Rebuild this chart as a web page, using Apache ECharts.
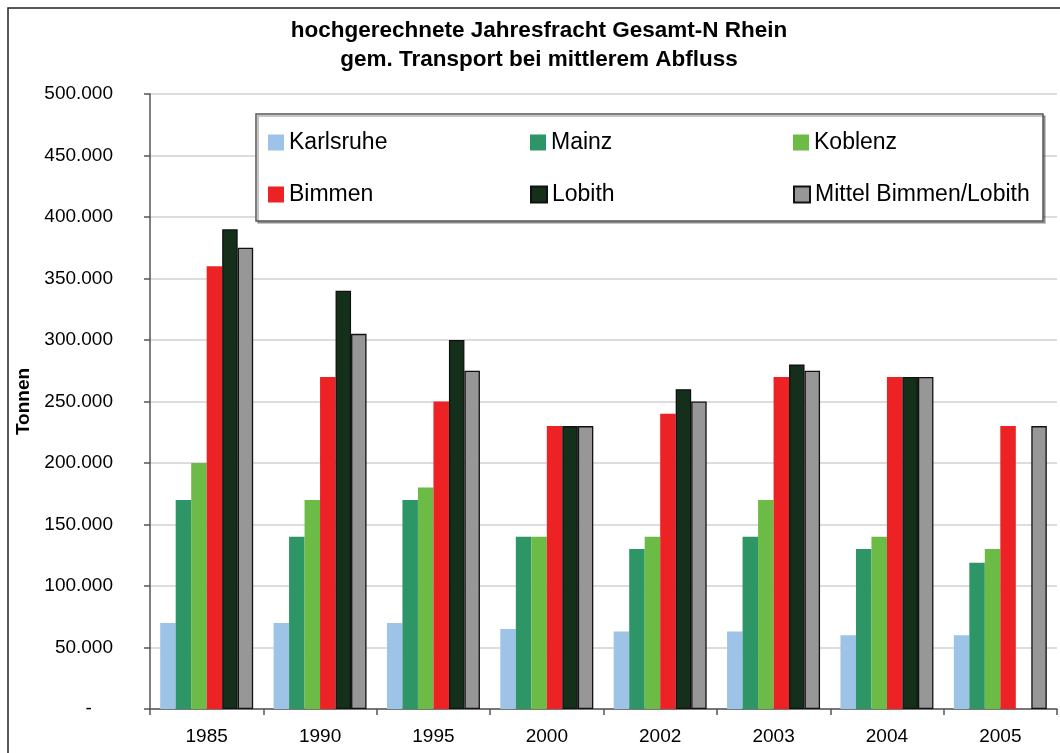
<!DOCTYPE html>
<html>
<head>
<meta charset="utf-8">
<script src="https://cdn.jsdelivr.net/npm/echarts@6/dist/echarts.min.js"></script>
<style>
  html, body { margin: 0; padding: 0; background: #fff; }
  #chart { width: 1060px; height: 753px; }
</style>
</head>
<body>
<div id="chart"></div>
<script>
// Jahre (Kategorien)
var years = ['1985', '1990', '1995', '2000', '2002', '2003', '2004', '2005'];

// Jahresfracht Gesamt-N in Tonnen, je Messstelle
var karlsruhe = [70000, 70000, 70000, 65000, 63000, 63000, 60000, 60000];
var mainz     = [170000, 140000, 170000, 140000, 130000, 140000, 130000, 119000];
var koblenz   = [200000, 170000, 180000, 140000, 140000, 170000, 140000, 130000];
var bimmen    = [360000, 270000, 250000, 230000, 240000, 270000, 270000, 230000];
var lobith    = [390000, 340000, 300000, 230000, 260000, 280000, 270000, null];
var mittel    = [375000, 305000, 275000, 230000, 250000, 275000, 270000, 230000];

var seriesNames = ['Karlsruhe', 'Mainz', 'Koblenz', 'Bimmen', 'Lobith', 'Mittel Bimmen/Lobith'];
var seriesData = [karlsruhe, mainz, koblenz, bimmen, lobith, mittel];
var seriesColors = ['#9dc3e6', '#2e9566', '#6bbb46', '#ed2224', '#15301a', '#979797'];
var withBorder = [false, false, false, false, true, true];

// Legende: 2 Zeilen x 3 Spalten
var legendPos = [
  [268, 131], [530, 131], [793, 131],
  [268, 183], [530, 183], [793, 183]
];

var chart = echarts.init(document.getElementById('chart'));

var series = seriesNames.map(function (name, i) {
  return {
    name: name,
    type: 'bar',
    data: seriesData[i],
    barGap: 0,
    barCategoryGap: '18%',
    itemStyle: {
      color: seriesColors[i],
      borderColor: withBorder[i] ? '#111' : 'transparent',
      borderWidth: withBorder[i] ? 1.3 : 0
    }
  };
});

var legends = seriesNames.map(function (name, i) {
  return {
    data: [name],
    left: legendPos[i][0],
    top: legendPos[i][1],
    padding: 0,
    icon: 'rect',
    itemWidth: 16,
    itemHeight: 16,
    selectedMode: false,
    textStyle: { fontFamily: 'Liberation Sans', fontSize: 23, lineHeight: 23, color: '#000' }
  };
});

chart.setOption({
  animation: false,
  textStyle: { fontFamily: 'Liberation Sans' },
  graphic: {
    elements: [
      {
        type: 'rect', z: 0,
        shape: { x: 8, y: 8, width: 1200, height: 1000 },
        style: { fill: 'none', stroke: '#222', lineWidth: 1.5 }
      },
      {
        type: 'rect', z: 3,
        shape: { x: 256, y: 114, width: 787, height: 107 },
        style: {
          fill: '#fff', stroke: '#555', lineWidth: 1.5,
          shadowColor: 'rgba(0,0,0,0.3)', shadowOffsetX: 2, shadowOffsetY: 2, shadowBlur: 0
        }
      },
      {
        type: 'text', z: 5,
        style: {
          text: 'hochgerechnete Jahresfracht Gesamt-N Rhein\ngem. Transport bei mittlerem Abfluss',
          x: 539, y: 16,
          align: 'center', textAlign: 'center',
          font: 'bold 22.5px "Liberation Sans"',
          lineHeight: 29,
          fill: '#000'
        }
      }
    ]
  },
  legend: legends,
  grid: { left: 150, right: 3, top: 94, bottom: 44 },
  xAxis: {
    type: 'category',
    data: years,
    axisLine: { lineStyle: { color: '#555', width: 1.5 } },
    axisTick: { show: true, length: 6, interval: 0, lineStyle: { color: '#555', width: 1.5 } },
    axisLabel: { fontSize: 19, color: '#000', margin: 18, interval: 0 }
  },
  yAxis: {
    type: 'value',
    min: 0,
    max: 500000,
    interval: 50000,
    name: 'Tonnen',
    nameLocation: 'middle',
    nameGap: 116,
    nameTextStyle: { fontSize: 19, fontWeight: 'bold', color: '#000' },
    axisLine: { show: true, lineStyle: { color: '#555', width: 1.5 } },
    axisTick: { show: true, length: 6, lineStyle: { color: '#555', width: 1.5 } },
    splitLine: { lineStyle: { color: '#d2d2d2', width: 1.5 } },
    axisLabel: {
      fontSize: 19,
      color: '#000',
      margin: 37,
      formatter: function (v) {
        if (v === 0) return '-    ';
        return (v / 1000) + '.000';
      }
    }
  },
  series: series
});
</script>
</body>
</html>
